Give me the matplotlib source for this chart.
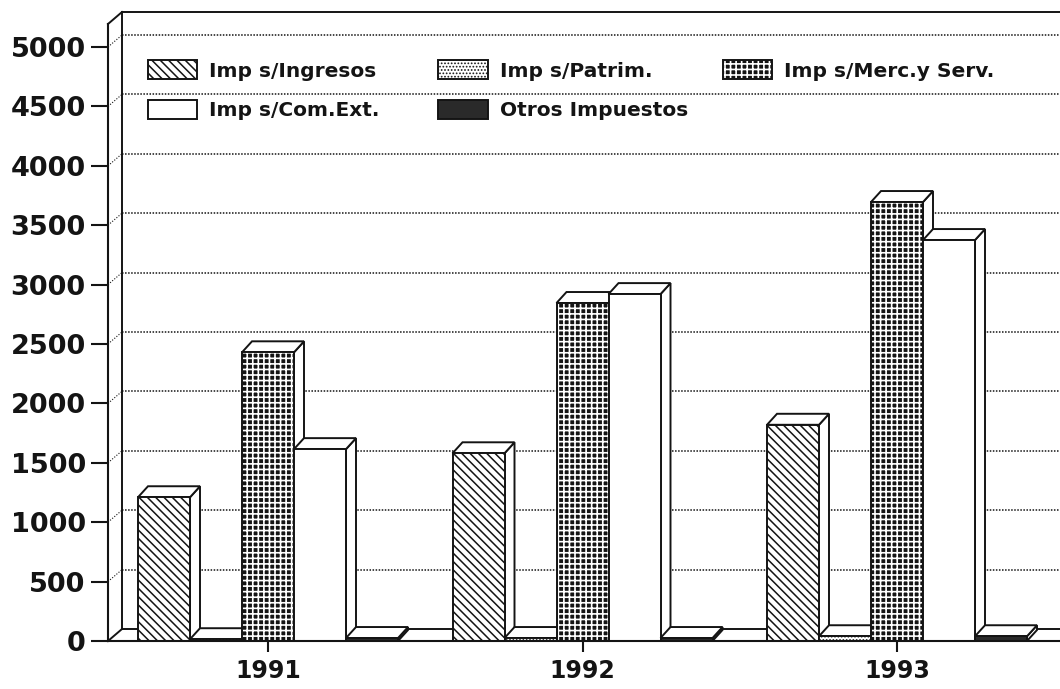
import matplotlib
matplotlib.use("Agg")
import matplotlib.pyplot as plt
from matplotlib.patches import Rectangle, Polygon, Patch
from matplotlib.legend_handler import HandlerBase
import numpy as np

years = ["1991", "1992", "1993"]
series = ["Imp s/Ingresos", "Imp s/Patrim.", "Imp s/Merc.y Serv.",
          "Imp s/Com.Ext.", "Otros Impuestos"]
ingresos = [1210, 1580, 1820]
patrim = [15, 25, 40]
merc = [2430, 2845, 3695]
com_ext = [1615, 2920, 3375]
otros = [25, 25, 40]
yticks = [0, 500, 1000, 1500, 2000, 2500, 3000, 3500, 4000, 4500, 5000]

values = [ingresos, patrim, merc, com_ext, otros]

plt.rcParams['font.family'] = ['DejaVu Sans']
plt.rcParams['font.weight'] = 'bold'
INK = '#141414'

W, H, DPI = 1060, 689, 100
fig = plt.figure(figsize=(W / DPI, H / DPI), dpi=DPI, facecolor='white')
# front plane of the box, in pixels
L, R, B, T = 108, 1060, 641, 24
ax = fig.add_axes([L / W, 1 - B / H, (R - L) / W, (B - T) / H])
ax.set_facecolor('none')

px_per_val = 594 / 5000
ax.set_ylim(0, (B - T) / px_per_val)
x0 = (L - 268) / 314.5
ax.set_xlim(x0, x0 + (R - L) / 314.5)
xmax = ax.get_xlim()[1]
ytop = ax.get_ylim()[1]

def px_x(p):
    return p / 314.5

def px_y(p):
    return p / px_per_val

# depth of walls and of bars
wdx, wdy = px_x(14), px_y(12)
bdx, bdy = px_x(10), px_y(11)

# walls, floor and grid
line_kw = dict(color=INK, lw=1.4, clip_on=False, zorder=1)
ax.plot([x0 + wdx, x0 + wdx], [wdy, ytop + wdy], **line_kw)
ax.plot([x0, x0 + wdx], [ytop, ytop + wdy], **line_kw)
ax.plot([x0 + wdx, xmax], [ytop + wdy, ytop + wdy], **line_kw)
ax.plot([x0, x0 + wdx], [0, wdy], **line_kw)
ax.plot([x0 + wdx, xmax], [wdy, wdy], **line_kw)
for v in yticks[1:]:
    ax.plot([x0 + wdx, xmax], [v + wdy, v + wdy], color=INK, lw=1.1,
            ls=(0, (1, 1)), clip_on=False, zorder=1)
    ax.plot([x0, x0 + wdx], [v, v + wdy], color=INK, lw=0.8,
            ls=(0, (1, 1.5)), clip_on=False, zorder=1)

styles = [
    dict(fc='white', ec=INK, hatch='\\\\\\\\', hlw=1.1),
    dict(fc='white', ec=INK, hatch='.....', hlw=0.8),
    dict(fc=INK, ec='white', hatch='+++', hlw=1.2),
    dict(fc='white', ec=INK, hatch=None, hlw=1.0),
    dict(fc='#2a2a2a', ec=INK, hatch=None, hlw=1.0),
]

def make_face(xy, w, h, st, z, **kw):
    with plt.rc_context({'hatch.linewidth': st['hlw']}):
        p = Rectangle(xy, w, h, facecolor=st['fc'], edgecolor=st['ec'],
                      hatch=st['hatch'], lw=0, zorder=z, **kw)
        if hasattr(p, 'set_hatch_linewidth'):
            p.set_hatch_linewidth(st['hlw'])
    q = Rectangle(xy, w, h, facecolor='none', edgecolor=INK, lw=1.4,
                  zorder=z + 0.01, **kw)
    return p, q

bw = px_x(52)
x = np.arange(len(years))
z = 2
for g in range(len(years)):
    for s in range(len(series)):
        h = values[s][g]
        xl = x[g] + (s - 2.5) * bw
        side = Polygon([(xl + bw, 0), (xl + bw + bdx, bdy),
                        (xl + bw + bdx, h + bdy), (xl + bw, h)],
                       closed=True, fc='white', ec=INK, lw=1.4, zorder=z)
        top = Polygon([(xl, h), (xl + bdx, h + bdy),
                       (xl + bw + bdx, h + bdy), (xl + bw, h)],
                      closed=True, fc='white', ec=INK, lw=1.4, zorder=z)
        ax.add_patch(side)
        ax.add_patch(top)
        for p in make_face((xl, 0), bw, h, styles[s], z + 0.1):
            ax.add_patch(p)
        z += 1

for sp in ['top', 'right']:
    ax.spines[sp].set_visible(False)
for sp in ['left', 'bottom']:
    ax.spines[sp].set_linewidth(1.5)
    ax.spines[sp].set_color(INK)
    ax.spines[sp].set_zorder(50)

ax.set_yticks(yticks)
ax.set_yticklabels([str(v) for v in yticks], fontsize=19.5, fontweight='bold',
                   color=INK)
ax.set_xticks(x)
ax.set_xticklabels(years, fontsize=17, fontweight='bold', color=INK)
ax.tick_params(axis='y', length=12, width=1.5, pad=4, color=INK)
ax.tick_params(axis='x', length=8, width=1.5, pad=5, color=INK)


class FaceHandler(HandlerBase):
    def create_artists(self, legend, orig_handle, xdescent, ydescent,
                       width, height, fontsize, trans):
        st = styles[orig_handle.idx]
        return list(make_face((-xdescent, -ydescent), width, height, st, 1,
                              transform=trans))


handles = []
for s in range(len(series)):
    hp = Patch()
    hp.idx = s
    handles.append(hp)

leg_kw = dict(handler_map={Patch: FaceHandler()}, loc='upper left',
              bbox_transform=fig.transFigure, frameon=False,
              prop={'size': 14.5, 'weight': 'bold'},
              handlelength=2.45, handleheight=1.1, handletextpad=0.6,
              labelspacing=0.95, borderpad=0, borderaxespad=0)
order = [0, 3, 1, 4]
leg1 = ax.legend([handles[i] for i in order], [series[i] for i in order],
                 ncol=2, columnspacing=2.9,
                 bbox_to_anchor=(148 / W, 1 - 60 / H), **leg_kw)
for t in leg1.get_texts():
    t.set_color(INK)
leg1.set_zorder(100)
ax.add_artist(leg1)
leg2 = ax.legend([handles[2]], [series[2]],
                 bbox_to_anchor=(723 / W, 1 - 60 / H), **leg_kw)
for t in leg2.get_texts():
    t.set_color(INK)
leg2.set_zorder(100)

fig.savefig("out.png", dpi=DPI, facecolor='white')
